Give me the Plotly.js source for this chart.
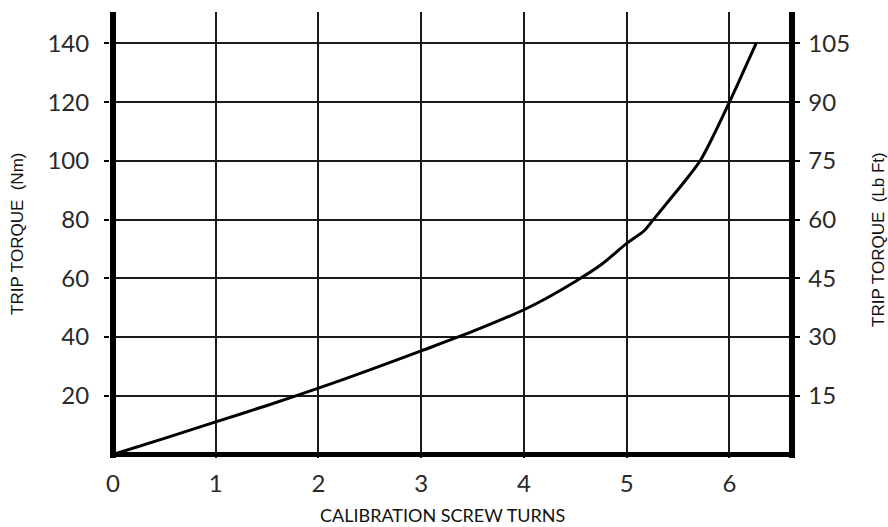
<!DOCTYPE html>
<html>
<head>
<meta charset="utf-8">
<script src="https://cdn.plot.ly/plotly-3.0.1.min.js"></script>
<style>html,body{margin:0;padding:0;background:#fff;}#chart{width:888px;height:527px;}</style>
</head>
<body>
<div id="chart"></div>
<script>
// Calibration curve
const turns  = [0, 0.5, 1, 1.5, 2, 2.5, 3, 3.5, 4, 4.25, 4.5, 4.75, 5, 5.17, 5.26, 5.49, 5.6, 5.72, 5.85, 6, 6.14, 6.26];
const torque = [0, 5.5, 11.1, 16.7, 22.6, 28.8, 35.3, 41.9, 49.3, 53.8, 58.9, 64.6, 71.9, 76.2, 80, 89.8, 94.6, 100.3, 109, 120, 130.7, 140];

const xTicks = [0, 1, 2, 3, 4, 5, 6];
const nmTicks = [20, 40, 60, 80, 100, 120, 140];
const lbftTicks = [15, 30, 45, 60, 75, 90, 105];

const xTitle = 'CALIBRATION SCREW TURNS';
const yTitle = 'TRIP TORQUE  (Nm)';
const y2Title = 'TRIP TORQUE  (Lb Ft)';

const lbPerNm = 0.75;
const xRange = [-0.029, 6.58];
const yRange = [-1.19, 150.7];

const trace = {
  x: turns, y: torque, type: 'scatter', mode: 'lines',
  line: {color: '#000', width: 3, shape: 'spline', smoothing: 0.8}, hoverinfo: 'skip', showlegend: false
};
const dummy = {
  x: [1], y: [0], yaxis: 'y2', type: 'scatter', mode: 'markers',
  marker: {opacity: 0}, hoverinfo: 'skip', showlegend: false
};

const tickFont = {family: 'Lato, sans-serif', size: 24, color: '#2a2a2a'};

const layout = {
  width: 888, height: 527,
  margin: {l: 110, r: 99, t: 12, b: 69},
  paper_bgcolor: '#fff', plot_bgcolor: '#fff',
  xaxis: {
    range: xRange, tickvals: xTicks, ticktext: xTicks.map(String),
    showgrid: true, gridcolor: '#1a1a1a', gridwidth: 2,
    zeroline: true, zerolinecolor: '#000', zerolinewidth: 5.5,
    showline: false, ticks: '', tickfont: tickFont, ticklabelstandoff: 9, fixedrange: true
  },
  yaxis: {
    range: yRange, tickvals: nmTicks, ticktext: nmTicks.map(String),
    showgrid: true, gridcolor: '#1a1a1a', gridwidth: 2,
    zeroline: true, zerolinecolor: '#000', zerolinewidth: 5.5,
    showline: false,
    ticks: 'outside', ticklen: 5, tickwidth: 2, tickcolor: '#000',
    tickfont: tickFont, ticklabelstandoff: 10, fixedrange: true
  },
  yaxis2: {
    overlaying: 'y', side: 'right',
    range: yRange.map(v => v * lbPerNm), tickvals: lbftTicks, ticktext: lbftTicks.map(String),
    showgrid: false, zeroline: false,
    showline: true, linecolor: '#000', linewidth: 5.5,
    ticks: 'outside', ticklen: 5, tickwidth: 2, tickcolor: '#000',
    tickfont: tickFont, ticklabelstandoff: 4, fixedrange: true
  },
  annotations: [
    {text: yTitle, xref: 'paper', yref: 'paper', x: 0, y: 0.5, xanchor: 'center', yanchor: 'middle',
     xshift: -93, yshift: 1, textangle: -90, showarrow: false,
     font: {family: 'Liberation Sans, Arial, sans-serif', size: 17, color: '#111'}},
    {text: y2Title, xref: 'paper', yref: 'paper', x: 1, y: 0.5, xanchor: 'center', yanchor: 'middle',
     xshift: 89, yshift: -5, textangle: -90, showarrow: false,
     font: {family: 'Liberation Sans, Arial, sans-serif', size: 17, color: '#111'}},
    {text: xTitle, xref: 'paper', yref: 'paper', x: 0.5, y: 0, xanchor: 'center', yanchor: 'middle',
     xshift: -7, yshift: -57, showarrow: false,
     font: {family: 'Lato, sans-serif', size: 18, color: '#111'}}
  ]
};

Plotly.newPlot('chart', [trace, dummy], layout, {displayModeBar: false, staticPlot: true});
</script>
</body>
</html>
